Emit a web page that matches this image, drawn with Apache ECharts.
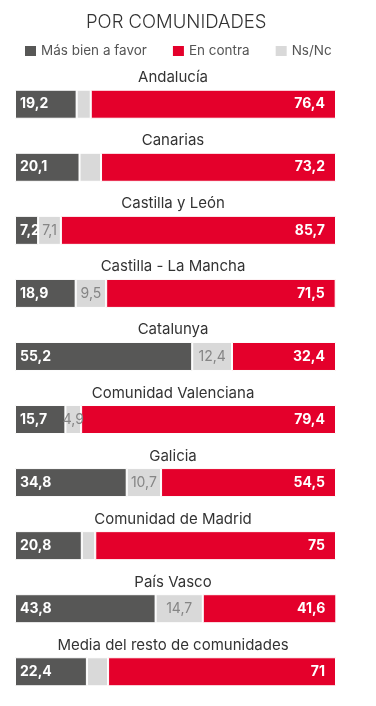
<!DOCTYPE html>
<html>
<head>
<meta charset="utf-8">
<script src="https://cdn.jsdelivr.net/npm/echarts@6/dist/echarts.min.js"></script>
<style>
  html, body { margin: 0; padding: 0; background: #fff; }
  #chart { width: 376px; height: 706px; }
</style>
</head>
<body>
<div id="chart"></div>
<script>
var comunidades = ['Andalucía', 'Canarias', 'Castilla y León', 'Castilla - La Mancha', 'Catalunya',
  'Comunidad Valenciana', 'Galicia', 'Comunidad de Madrid', 'País Vasco', 'Media del resto de comunidades']
var favor = [19.2, 20.1, 7.2, 18.9, 55.2, 15.7, 34.8, 20.8, 43.8, 22.4]
var nsnc = [4.4, 6.7, 7.1, 9.5, 12.4, 4.9, 10.7, 4.2, 14.7, 6.6]
var contra = [76.4, 73.2, 85.7, 71.5, 32.4, 79.4, 54.5, 75, 41.6, 71]
// en el original solo algunas etiquetas de Ns/Nc aparecen
var nsncEtiqueta = [false, false, true, true, true, true, true, false, true, false]

var FONT = 'Inter'
function coma(p) { return String(p.value).replace('.', ',') }

var myChart = echarts.init(document.getElementById('chart'))
myChart.setOption({
  textStyle: { fontFamily: FONT },
  animation: false,
  title: {
    text: 'POR COMUNIDADES',
    left: 81, top: 8,
    textStyle: { fontFamily: FONT, fontSize: 18.5, fontWeight: 300, color: '#333' }
  },
  legend: {
    left: 18, top: 39,
    data: ['Más bien a favor', 'En contra', 'Ns/Nc'],
    icon: 'rect', itemWidth: 13, itemHeight: 12, itemGap: 24,
    textStyle: { fontFamily: FONT, fontSize: 13.5, color: '#555', padding: [0, 0, 0, -1] }
  },
  grid: { left: 15, right: 40, top: 72.7, bottom: 2.7 },
  xAxis: { type: 'value', min: 0, max: 100, show: false },
  yAxis: {
    type: 'category', inverse: true, data: comunidades,
    axisLine: { show: false }, axisTick: { show: false },
    axisLabel: {
      align: 'center', margin: -158, verticalAlign: 'bottom', padding: [0, 0, 19, 0],
      fontFamily: FONT, fontSize: 15, color: '#333'
    }
  },
  series: [
    {
      name: 'Más bien a favor', type: 'bar', stack: 'total', barWidth: 29,
      data: favor,
      itemStyle: { color: '#575756', borderColor: '#fff', borderWidth: 1 },
      label: { show: true, position: 'insideLeft', distance: 5, formatter: coma,
        color: '#fff', fontWeight: 'bold', fontSize: 14, fontFamily: FONT }
    },
    {
      name: 'Ns/Nc', type: 'bar', stack: 'total',
      data: nsnc.map(function (v, i) { return { value: v, label: { show: nsncEtiqueta[i] } } }),
      itemStyle: { color: '#d9d9d9', borderColor: '#fff', borderWidth: 1 },
      label: { show: true, position: 'inside', formatter: coma,
        color: '#858585', fontSize: 14, fontFamily: FONT }
    },
    {
      name: 'En contra', type: 'bar', stack: 'total',
      data: contra,
      itemStyle: { color: '#e4002b', borderColor: '#fff', borderWidth: 1 },
      label: { show: true, position: 'insideRight', distance: 11, formatter: coma,
        color: '#fff', fontWeight: 'bold', fontSize: 14, fontFamily: FONT }
    }
  ]
})
</script>
</body>
</html>
